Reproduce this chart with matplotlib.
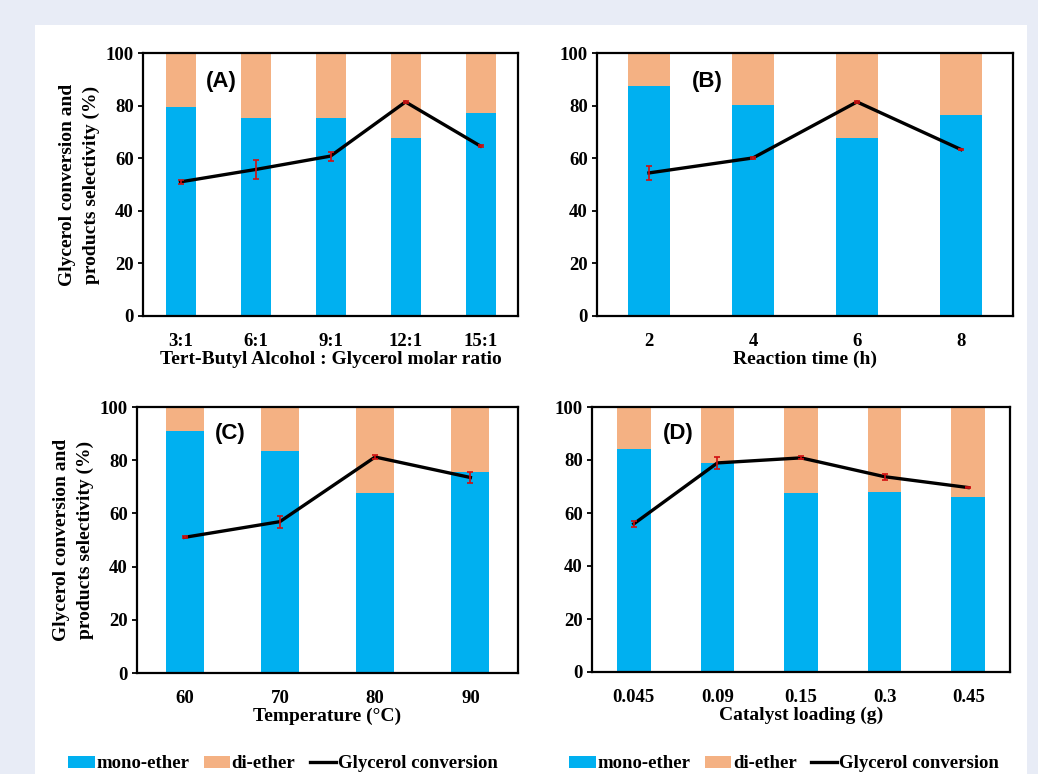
import numpy as np
import matplotlib
matplotlib.use("Agg")
import matplotlib.pyplot as plt
from matplotlib.patches import Rectangle, Patch
from matplotlib.lines import Line2D

# panel A - molar ratio
ratio_labels = ["3:1", "6:1", "9:1", "12:1", "15:1"]
ratio_mono = [79.3, 75.1, 75.1, 67.5, 77.0]
ratio_conv = [51.0, 55.7, 60.8, 81.4, 64.6]
ratio_err = [0.8, 3.6, 1.7, 0.5, 0.3]

# panel B - reaction time
time_labels = ["2", "4", "6", "8"]
time_mono = [87.5, 80.1, 67.7, 76.6]
time_conv = [54.4, 60.1, 81.4, 63.3]
time_err = [2.7, 0.3, 0.5, 0.3]

# panel C - temperature
temp_labels = ["60", "70", "80", "90"]
temp_mono = [90.8, 83.3, 67.8, 75.4]
temp_conv = [51.0, 56.9, 81.2, 73.5]
temp_err = [0.4, 2.3, 0.8, 2.2]

# panel D - catalyst loading
cat_labels = ["0.045", "0.09", "0.15", "0.3", "0.45"]
cat_mono = [84.2, 78.9, 67.5, 68.0, 66.2]
cat_conv = [55.9, 78.9, 80.8, 73.7, 69.6]
cat_err = [1.2, 2.2, 0.6, 1.2, 0.3]

BLUE = "#00B0F0"
ORANGE = "#F4B183"
SERIF = "Liberation Serif"
SANS = "Liberation Sans"

W, H = 1038, 774
fig = plt.figure(figsize=(W / 100, H / 100), dpi=100)
fig.patch.set_facecolor("#E8ECF6")
fig.patches.append(Rectangle((35 / W, 0), (1027 - 35) / W, (H - 25) / H,
                             transform=fig.transFigure, facecolor="white",
                             edgecolor="none", zorder=-5))


def px_axes(l, t, r, b):
    return fig.add_axes([l / W, 1 - b / H, (r - l) / W, (b - t) / H])


def panel(ax, labels, mono, conv, err, tag, tag_x, tag_y, xlabel, ylabel=False):
    x = np.arange(len(labels))
    mono = np.array(mono)
    ax.bar(x, mono, 0.4, color=BLUE, zorder=2)
    ax.bar(x, 100 - mono, 0.4, bottom=mono, color=ORANGE, zorder=2)
    ax.plot(x, conv, color="black", lw=2.4, zorder=3)
    ax.errorbar(x, conv, yerr=err, fmt="none", ecolor="#D01010", elinewidth=1.2,
                capsize=2.5, capthick=1.2, zorder=4)
    ax.set_xlim(-0.5, len(labels) - 0.5)
    ax.set_ylim(0, 100)
    ax.set_yticks(np.arange(0, 101, 20))
    ax.set_xticks(x, labels)
    for s in ax.spines.values():
        s.set_linewidth(1.6)
        s.set_zorder(5)
    ax.tick_params(axis="x", length=0, pad=12)
    ax.tick_params(axis="y", length=3.5, width=1.3, pad=3, direction="out")
    for t in ax.get_xticklabels() + ax.get_yticklabels():
        t.set_fontfamily(SERIF)
        t.set_fontweight("bold")
        t.set_fontsize(13.5)
    ax.set_xlabel(xlabel, fontfamily=SERIF, fontweight="bold", fontsize=14, labelpad=1)
    if ylabel:
        ax.set_ylabel("Glycerol conversion and\nproducts selectivity (%)",
                      fontfamily=SERIF, fontweight="bold", fontsize=14,
                      labelpad=4, linespacing=1.5)
    ax.text(tag_x, tag_y, tag, transform=ax.transAxes, ha="center", va="center",
            fontfamily=SANS, fontweight="bold", fontsize=16)


axA = px_axes(143, 53, 518, 316)
panel(axA, ratio_labels, ratio_mono, ratio_conv, ratio_err, "(A)", 0.21, 0.89,
      "Tert-Butyl Alcohol : Glycerol molar ratio", ylabel=True)
axB = px_axes(597, 53, 1013, 316)
panel(axB, time_labels, time_mono, time_conv, time_err, "(B)", 0.264, 0.89,
      "Reaction time (h)")
axC = px_axes(137, 407, 518, 673)
panel(axC, temp_labels, temp_mono, temp_conv, temp_err, "(C)", 0.244, 0.90,
      "Temperature (\u00b0C)", ylabel=True)
axD = px_axes(592, 407, 1010, 672)
panel(axD, cat_labels, cat_mono, cat_conv, cat_err, "(D)", 0.206, 0.90,
      "Catalyst loading (g)")

handles = [Patch(facecolor=BLUE, edgecolor="none"),
           Patch(facecolor=ORANGE, edgecolor="none"),
           Line2D([], [], color="black", lw=2.4)]
names = ["mono-ether", "di-ether", "Glycerol conversion"]
for cx in (283 / W, 784 / W):
    fig.legend(handles, names, loc="center", bbox_to_anchor=(cx, 1 - 764 / H),
               ncol=3, frameon=False, handlelength=1.4, handleheight=0.6,
               handletextpad=0.1, columnspacing=0.75,
               prop={"family": SERIF, "weight": "bold", "size": 13.5})

fig.savefig("out.png", dpi=100)
